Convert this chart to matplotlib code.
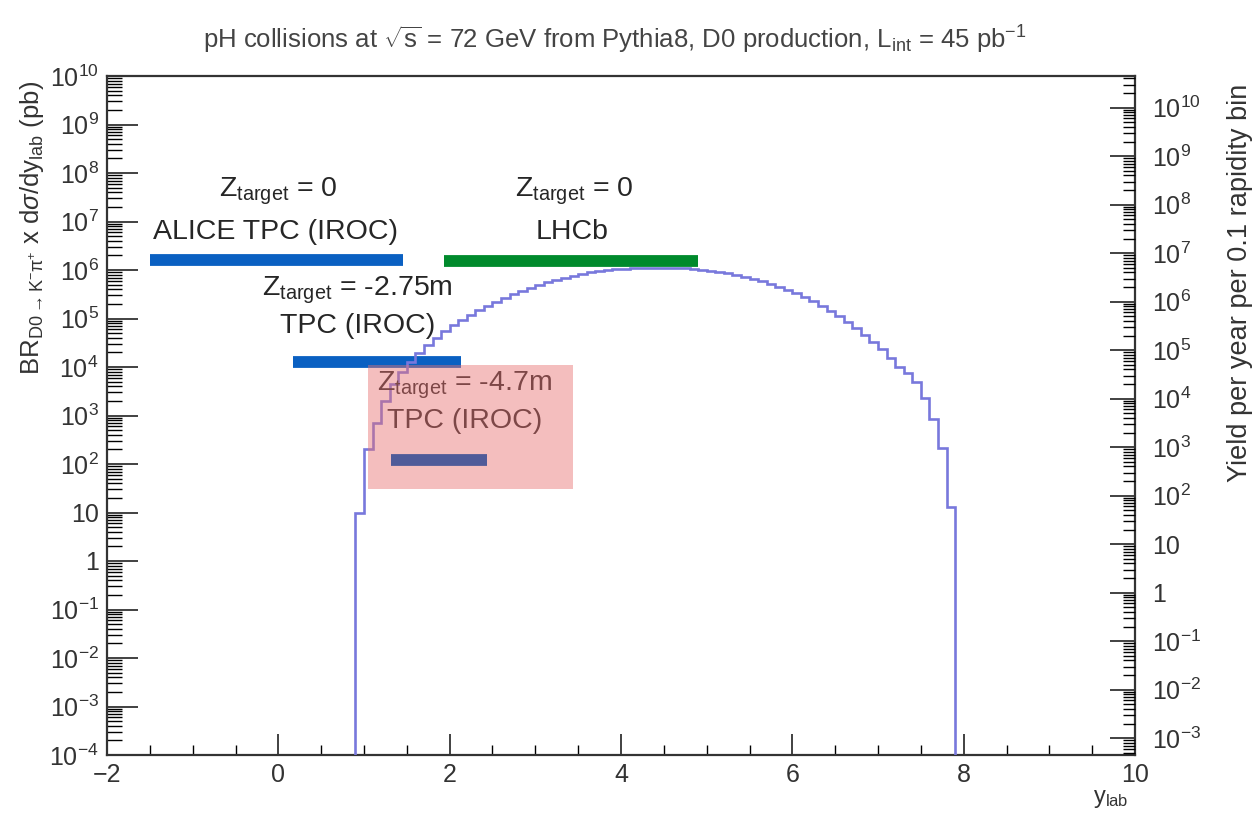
import numpy as np
import matplotlib
matplotlib.use("Agg")
import matplotlib.pyplot as plt
from matplotlib.ticker import LogLocator, FuncFormatter, MultipleLocator, NullFormatter
from matplotlib.patches import Rectangle

plt.rcParams["font.family"] = ["Liberation Sans", "DejaVu Sans"]
plt.rcParams["mathtext.fontset"] = "custom"
plt.rcParams["mathtext.rm"] = "Liberation Sans"
plt.rcParams["mathtext.it"] = "Liberation Sans:italic"
plt.rcParams["mathtext.sf"] = "Liberation Sans"

# ---------------------------------------------------------------
# D0 -> K- pi+ cross section per 0.1 rapidity bin (pb), y_lab 0.9 .. 7.9
# ---------------------------------------------------------------
bin_edges = np.round(np.arange(0.9, 7.9001, 0.1), 2)
dsigma_dy = [
    1.0e1, 2.0e2, 7.0e2, 2.0e3, 4.5e3, 8.0e3, 1.25e4, 1.9e4, 2.8e4, 4.0e4,
    5.5e4, 7.2e4, 9.3e4, 1.17e5, 1.48e5, 1.82e5, 2.2e5, 2.63e5, 3.15e5, 3.7e5,
    4.35e5, 5.0e5, 5.6e5, 6.3e5, 7.0e5, 7.7e5, 8.3e5, 8.9e5, 9.5e5, 1.0e6,
    1.04e6, 1.07e6, 1.09e6, 1.11e6, 1.12e6, 1.12e6, 1.11e6, 1.10e6, 1.08e6, 1.05e6,
    1.02e6, 9.7e5, 9.2e5, 8.6e5, 8.0e5, 7.3e5, 6.6e5, 5.9e5, 5.2e5, 4.5e5,
    3.9e5, 3.3e5, 2.75e5, 2.25e5, 1.8e5, 1.42e5, 1.1e5, 8.5e4, 6.3e4, 4.6e4,
    3.3e4, 2.3e4, 1.55e4, 1.0e4, 7.5e3, 5.0e3, 2.3e3, 8.5e2, 2.1e2, 1.3e1,
]

# yield = sigma * L_int * bin width
lumi_pb = 45.0
bin_width = 0.1
yield_factor = lumi_pb * bin_width

# detector acceptances: (y_min, y_max, level in pb)
alice_z0 = (-1.5, 1.45, 1.6e6)
lhcb_z0 = (1.93, 4.9, 1.5e6)
tpc_z275 = (0.17, 2.13, 1.25e4)
tpc_z470 = (1.32, 2.44, 1.2e2)

# ---------------------------------------------------------------
# Figure
# ---------------------------------------------------------------
W, H = 1256, 816
fig = plt.figure(figsize=(W / 100, H / 100), dpi=100)
ax = fig.add_axes([107 / W, 1 - 755 / H, (1135 - 107) / W, (755 - 76) / H])

ax.set_yscale("log")
ax.set_xlim(-2, 10)
ax.set_ylim(1e-4, 1e10)

ax.stairs(dsigma_dy, bin_edges, baseline=1e-4, color="#7878dc", lw=1.9, zorder=3)

bar_lw = 8.5
ax.hlines(alice_z0[2], alice_z0[0], alice_z0[1], color="#0a60c2", lw=bar_lw, zorder=2)
ax.hlines(lhcb_z0[2], lhcb_z0[0], lhcb_z0[1], color="#008a2c", lw=bar_lw, zorder=2)
ax.hlines(tpc_z275[2], tpc_z275[0], tpc_z275[1], color="#0a60c2", lw=bar_lw, zorder=2)
ax.hlines(tpc_z470[2], tpc_z470[0], tpc_z470[1], color="#4f5b99", lw=bar_lw, zorder=6)

txt = dict(ha="center", va="center", fontsize=20.5, color="#262626", zorder=4)
ax.text(0.0, 10**7.62, r"Z$_{\mathrm{target}}$ = 0", **txt)
ax.text(-0.03, 10**6.78, "ALICE TPC (IROC)", **txt)
ax.text(3.45, 10**7.62, r"Z$_{\mathrm{target}}$ = 0", **txt)
ax.text(3.43, 10**6.78, "LHCb", **txt)
ax.text(0.92, 10**5.58, r"Z$_{\mathrm{target}}$ = -2.75m", **txt)
ax.text(0.92, 10**4.84, "TPC (IROC)", **txt)
ax.text(2.17, 10**3.62, r"Z$_{\mathrm{target}}$ = -4.7m", **txt)
ax.text(2.17, 10**2.88, "TPC (IROC)", **txt)

# highlight box over the far-upstream position
ax.add_patch(Rectangle((1.05, 10**1.49), 3.44 - 1.05, 10**4.05 - 10**1.49,
                       facecolor="#e87070", alpha=0.45, edgecolor="none", zorder=5))

# axis styling, ROOT-like
def root_log_fmt(v, pos):
    n = int(round(np.log10(v)))
    if n == 0:
        return "1"
    if n == 1:
        return "10"
    return r"$10^{%d}$" % n

ax.yaxis.set_major_locator(LogLocator(base=10, numticks=30))
ax.yaxis.set_minor_locator(LogLocator(base=10, subs=np.arange(2, 10), numticks=200))
ax.yaxis.set_major_formatter(FuncFormatter(root_log_fmt))
ax.yaxis.set_minor_formatter(NullFormatter())
ax.xaxis.set_major_locator(MultipleLocator(2))
ax.xaxis.set_minor_locator(MultipleLocator(0.5))

ax.tick_params(axis="y", which="major", direction="in", length=22, width=1.3,
               labelsize=18, pad=6, colors="#333333", right=False)
ax.tick_params(axis="y", which="minor", direction="in", length=11, width=1.0,
               right=False)
ax.tick_params(axis="x", which="major", direction="in", length=15, width=1.3,
               labelsize=18, pad=6, colors="#333333", top=False)
ax.tick_params(axis="x", which="minor", direction="in", length=7, width=1.0, top=False)
for s in ax.spines.values():
    s.set_color("#333333")
    s.set_linewidth(1.6)

# right axis: yearly yield per 0.1 rapidity bin
ax2 = ax.twinx()
ax2.set_yscale("log")
ax2.set_ylim(1e-4 * yield_factor, 1e10 * yield_factor)
ax2.yaxis.set_major_locator(LogLocator(base=10, numticks=30))
ax2.yaxis.set_minor_locator(LogLocator(base=10, subs=np.arange(2, 10), numticks=200))
ax2.yaxis.set_major_formatter(FuncFormatter(root_log_fmt))
ax2.yaxis.set_minor_formatter(NullFormatter())
ax2.tick_params(axis="y", which="major", direction="in", length=18, width=1.3,
                labelsize=18, pad=12, colors="#333333")
ax2.tick_params(axis="y", which="minor", direction="in", length=9, width=1.0)
for s in ax2.spines.values():
    s.set_visible(False)

# titles
fig.text(615 / W, 1 - 40 / H,
         r"pH collisions at $\sqrt{\mathrm{s}}$ = 72 GeV from Pythia8, D0 production, L$_{\mathrm{int}}$ = 45 pb$^{-1}$",
         ha="center", va="center", fontsize=18.5, color="#444444")
fig.text(32 / W, 1 - 228 / H,
         r"BR$_{\mathrm{D0\rightarrow K^{-}\pi^{+}}}$ x d$\sigma$/dy$_{\mathrm{lab}}$ (pb)",
         rotation=90, ha="center", va="center", fontsize=18.5, color="#333333")
fig.text(1240 / W, 1 - 283 / H, "Yield per year per 0.1 rapidity bin",
         rotation=90, ha="center", va="center", fontsize=19.5, color="#333333")
fig.text(1128 / W, 1 - 799 / H, r"y$_{\mathrm{lab}}$",
         ha="right", va="center", fontsize=17, color="#333333")

fig.savefig("out.png", dpi=100, facecolor="white")
